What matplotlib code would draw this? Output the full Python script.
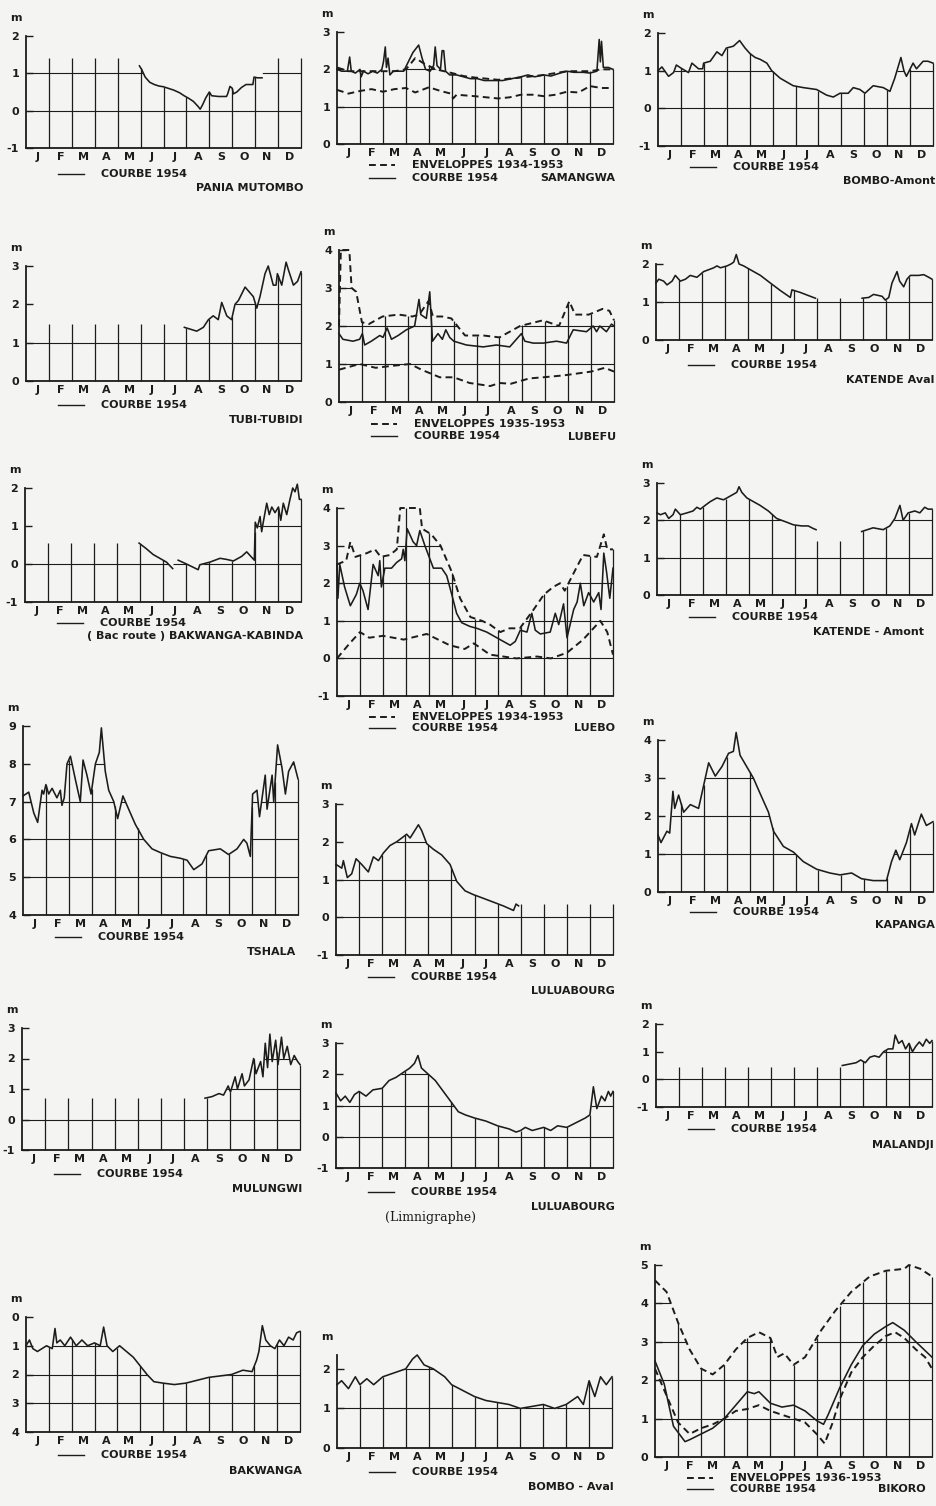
import numpy as np
import matplotlib
matplotlib.use('Agg')
from matplotlib import pyplot as plt
from matplotlib.lines import Line2D

nan = np.nan
W, H = 936, 1506
BG = '#f4f4f2'
INK = '#1c1c1c'
months = ['J', 'F', 'M', 'A', 'M', 'J', 'J', 'A', 'S', 'O', 'N', 'D']

# (month position, level in m) ; nan = no reading
pania = [(0, nan), (4.9, nan), (4.95, 1.2), (5.05, 1.1), (5.2, 0.9), (5.4, 0.76), (5.6, 0.7), (5.8, 0.66),
         (6.0, 0.64), (6.2, 0.6), (6.45, 0.55), (6.7, 0.48), (6.9, 0.4), (7.1, 0.33), (7.3, 0.25), (7.5, 0.12),
         (7.6, 0.04), (7.7, 0.15), (7.85, 0.35), (8.0, 0.5), (8.1, 0.4), (8.4, 0.38), (8.75, 0.38), (8.8, 0.45),
         (8.9, 0.65), (9.0, 0.6), (9.05, 0.45), (9.2, 0.5), (9.4, 0.62), (9.6, 0.7), (9.9, 0.7), (9.95, 0.9),
         (10.1, 0.88), (10.3, 0.88), (10.35, nan), (12, nan)]

samangwa = [(0, 2.0), (0.2, 1.95), (0.45, 1.95), (0.55, 2.33), (0.62, 1.95), (0.8, 1.9), (1.0, 2.0), (1.05, 1.8),
            (1.15, 1.95), (1.35, 1.88), (1.55, 1.95), (1.75, 1.9), (1.95, 2.0), (2.02, 2.2), (2.1, 2.6), (2.15, 2.05),
            (2.22, 2.3), (2.3, 1.85), (2.45, 1.95), (2.7, 1.95), (2.9, 1.95), (3.1, 2.2), (3.3, 2.45), (3.55, 2.65),
            (3.7, 2.3), (3.85, 2.0), (4.05, 1.95), (4.2, 2.1), (4.27, 2.6), (4.35, 2.1), (4.5, 2.0), (4.57, 2.5),
            (4.64, 2.5), (4.72, 1.95), (4.9, 1.85), (5.2, 1.85), (5.5, 1.8), (5.8, 1.75), (6.1, 1.75), (6.4, 1.7),
            (6.8, 1.7), (7.2, 1.7), (7.6, 1.75), (8.0, 1.8), (8.3, 1.85), (8.6, 1.8), (9.0, 1.85), (9.3, 1.82),
            (9.7, 1.9), (10.0, 1.95), (10.3, 1.92), (10.7, 1.92), (11.0, 1.9), (11.3, 1.95), (11.4, 2.8),
            (11.45, 2.2), (11.5, 2.75), (11.58, 2.05), (11.8, 2.05), (12, 2.0)]
samangwa_up = [(0, 2.05), (0.5, 1.95), (1, 1.95), (1.5, 1.95), (2, 1.95), (2.5, 1.95), (3, 2.0), (3.4, 2.3),
               (3.8, 2.15), (4.3, 2.0), (5, 1.9), (5.5, 1.82), (6, 1.78), (7, 1.72), (8, 1.78), (9, 1.85),
               (10, 1.95), (11, 1.95), (11.5, 2.0), (12, 2.0)]
samangwa_lo = [(0, 1.45), (0.5, 1.35), (1, 1.42), (1.5, 1.47), (2, 1.4), (2.5, 1.47), (3, 1.5), (3.4, 1.38),
               (4, 1.52), (4.5, 1.42), (4.95, 1.35), (5.05, 1.22), (5.2, 1.32), (5.6, 1.3), (6, 1.28), (6.5, 1.25),
               (7, 1.22), (7.5, 1.25), (8, 1.32), (8.5, 1.32), (9, 1.28), (9.5, 1.32), (10, 1.4), (10.5, 1.38),
               (11, 1.55), (11.5, 1.5), (12, 1.5)]

bombo_amont = [(0, 1.0), (0.17, 1.1), (0.46, 0.85), (0.68, 0.95), (0.8, 1.15), (1.05, 1.05), (1.33, 0.95),
               (1.48, 1.2), (1.77, 1.05), (1.95, 1.05), (1.99, 1.2), (2.28, 1.25), (2.57, 1.5), (2.79, 1.4),
               (2.98, 1.6), (3.29, 1.65), (3.56, 1.8), (3.8, 1.6), (4.02, 1.45), (4.24, 1.35), (4.46, 1.3),
               (4.75, 1.2), (4.96, 1.0), (5.33, 0.8), (5.9, 0.6), (6.34, 0.55), (6.92, 0.5), (7.36, 0.35),
               (7.65, 0.3), (7.94, 0.4), (8.3, 0.4), (8.52, 0.55), (8.81, 0.5), (9.03, 0.4), (9.39, 0.6),
               (9.83, 0.55), (10.12, 0.45), (10.33, 0.8), (10.6, 1.35), (10.73, 1.0), (10.84, 0.85), (11.13, 1.2),
               (11.28, 1.05), (11.57, 1.25), (11.78, 1.25), (12, 1.2)]

tubi = [(0, nan), (6.88, nan), (6.91, 1.4), (7.45, 1.3), (7.74, 1.4), (7.96, 1.6), (8.17, 1.7), (8.39, 1.6),
        (8.54, 2.05), (8.76, 1.7), (8.97, 1.6), (9.12, 2.0), (9.27, 2.1), (9.56, 2.45), (9.92, 2.2), (10.07, 1.9),
        (10.21, 2.2), (10.43, 2.8), (10.57, 3.0), (10.79, 2.5), (10.91, 2.5), (10.97, 2.8), (11.16, 2.5),
        (11.35, 3.1), (11.45, 2.9), (11.67, 2.5), (11.85, 2.6), (12, 2.85)]

lubefu = [(0, 1.8), (0.17, 1.65), (0.61, 1.6), (0.9, 1.65), (1.02, 1.8), (1.12, 1.5), (1.41, 1.6), (1.78, 1.75),
          (1.92, 1.7), (2.1, 1.95), (2.29, 1.65), (2.58, 1.75), (2.94, 1.9), (3.3, 2.0), (3.49, 2.7), (3.57, 2.3),
          (3.81, 2.2), (3.96, 2.9), (4.08, 1.6), (4.32, 1.8), (4.51, 1.65), (4.66, 1.9), (4.83, 1.7), (5.01, 1.6),
          (5.56, 1.5), (6.29, 1.45), (6.87, 1.5), (7.45, 1.45), (7.96, 1.8), (8.11, 1.6), (8.47, 1.55), (8.91, 1.55),
          (9.49, 1.6), (9.93, 1.55), (10.22, 1.9), (10.8, 1.85), (11.09, 2.0), (11.24, 1.85), (11.38, 2.0),
          (11.67, 1.85), (11.89, 2.05), (12, 2.0)]
lubefu_up = [(0, 2.0), (0.08, 4.0), (0.45, 4.0), (0.55, 3.0), (0.75, 2.9), (1.0, 2.1), (1.3, 2.05), (1.9, 2.25),
             (2.6, 2.3), (3.2, 2.25), (3.5, 2.3), (3.9, 2.65), (4.1, 2.25), (4.5, 2.25), (4.9, 2.2), (5.5, 1.75),
             (6.3, 1.75), (7.0, 1.7), (7.9, 2.0), (8.9, 2.15), (9.6, 2.0), (10.05, 2.65), (10.3, 2.3), (10.9, 2.3),
             (11.5, 2.45), (11.8, 2.4), (12, 2.15)]
lubefu_lo = [(0, 0.85), (0.6, 0.95), (0.9, 1.0), (1.6, 0.9), (2.3, 0.95), (3.1, 1.0), (3.6, 0.85), (4.4, 0.65),
             (5.0, 0.65), (5.7, 0.5), (6.6, 0.42), (7.0, 0.5), (7.5, 0.48), (8.3, 0.62), (8.9, 0.65), (9.8, 0.7),
             (11.0, 0.8), (11.6, 0.9), (12, 0.8)]

katende_aval = [(0, 1.5), (0.12, 1.6), (0.33, 1.55), (0.48, 1.45), (0.7, 1.55), (0.84, 1.7), (1.06, 1.55),
                (1.28, 1.6), (1.49, 1.7), (1.78, 1.65), (2.07, 1.8), (2.29, 1.85), (2.51, 1.9), (2.65, 1.95),
                (2.8, 1.9), (3.09, 1.95), (3.26, 2.0), (3.38, 2.05), (3.49, 2.25), (3.61, 2.0), (3.81, 1.95),
                (4.1, 1.85), (4.54, 1.7), (4.97, 1.5), (5.41, 1.3), (5.84, 1.12), (5.91, 1.32), (6.28, 1.25),
                (6.71, 1.15), (6.93, 1.1), (6.97, nan), (8.92, nan), (8.96, 1.1), (9.25, 1.12), (9.46, 1.2),
                (9.83, 1.15), (9.97, 1.05), (10.12, 1.12), (10.26, 1.5), (10.48, 1.8), (10.59, 1.55), (10.77, 1.4),
                (10.91, 1.6), (11.06, 1.7), (11.42, 1.7), (11.64, 1.72), (11.86, 1.65), (12, 1.6)]

bakwanga_kabinda = [(0, nan), (4.93, nan), (4.96, 0.55), (5.28, 0.4), (5.57, 0.25), (5.86, 0.15), (6.15, 0.05),
                    (6.42, -0.12), (6.5, nan), (6.6, nan), (6.66, 0.1), (7.02, 0.0), (7.53, -0.15), (7.6, -0.02),
                    (8.04, 0.05), (8.48, 0.15), (8.77, 0.12), (9.06, 0.08), (9.42, 0.2), (9.64, 0.32), (9.97, 0.1),
                    (10.01, 1.1), (10.1, 0.95), (10.22, 1.25), (10.29, 0.85), (10.36, 1.1), (10.51, 1.6),
                    (10.62, 1.3), (10.73, 1.5), (10.87, 1.35), (11.02, 1.5), (11.12, 1.15), (11.23, 1.6),
                    (11.38, 1.3), (11.52, 1.7), (11.64, 2.0), (11.74, 1.9), (11.84, 2.1), (11.93, 1.7), (12, 1.7)]

luebo = [(0, 2.5), (0.04, 1.6), (0.12, 2.5), (0.33, 1.9), (0.58, 1.4), (0.84, 1.7), (0.99, 2.0), (1.13, 1.8),
         (1.35, 1.3), (1.57, 2.5), (1.79, 2.2), (1.86, 2.6), (1.93, 1.9), (2.08, 2.4), (2.37, 2.4), (2.59, 2.55),
         (2.81, 2.65), (2.88, 2.9), (2.95, 2.6), (3.05, 3.45), (3.31, 3.1), (3.46, 3.0), (3.6, 3.4), (3.82, 3.0),
         (4.19, 2.4), (4.55, 2.4), (4.77, 2.2), (4.99, 1.7), (5.2, 1.2), (5.42, 0.95), (5.78, 0.85), (6.08, 0.8),
         (6.51, 0.7), (7.09, 0.5), (7.53, 0.35), (7.75, 0.45), (7.97, 0.75), (8.26, 0.7), (8.47, 1.2), (8.62, 0.75),
         (8.84, 0.65), (9.27, 0.7), (9.49, 1.2), (9.64, 0.9), (9.85, 1.45), (10.0, 0.55), (10.29, 1.3),
         (10.44, 1.5), (10.58, 2.0), (10.73, 1.4), (10.94, 1.75), (11.16, 1.5), (11.38, 1.75), (11.48, 1.3),
         (11.6, 2.8), (11.72, 2.3), (11.86, 1.6), (12, 2.4)]
luebo_up = [(0, 2.5), (0.4, 2.6), (0.58, 3.1), (0.8, 2.7), (1.3, 2.8), (1.65, 2.9), (1.9, 2.7), (2.3, 2.75),
            (2.6, 2.9), (2.75, 4.0), (3.6, 4.0), (3.7, 3.45), (4.1, 3.3), (4.5, 3.0), (4.99, 2.3), (5.35, 1.6),
            (5.8, 1.1), (6.3, 1.0), (6.65, 0.9), (7.1, 0.7), (7.5, 0.8), (7.95, 0.8), (8.55, 1.3), (9.0, 1.7),
            (9.4, 1.9), (9.7, 2.0), (9.9, 1.8), (10.4, 2.4), (10.7, 2.75), (11.3, 2.7), (11.6, 3.3), (11.75, 2.9),
            (12, 2.9)]
luebo_lo = [(0, 0.0), (0.55, 0.4), (1.0, 0.7), (1.4, 0.55), (2.0, 0.6), (2.9, 0.5), (3.9, 0.65), (4.9, 0.35),
            (5.55, 0.25), (5.95, 0.4), (6.65, 0.1), (7.8, 0.0), (8.7, 0.05), (9.3, 0.0), (10.0, 0.15), (10.7, 0.5),
            (11.45, 1.0), (11.75, 0.7), (12, 0.1)]

katende_amont = [(0, 2.2), (0.15, 2.15), (0.36, 2.2), (0.51, 2.05), (0.7, 2.15), (0.8, 2.3), (1.02, 2.15),
                 (1.31, 2.2), (1.57, 2.25), (1.74, 2.35), (1.89, 2.3), (2.1, 2.4), (2.32, 2.5), (2.61, 2.6),
                 (2.9, 2.55), (3.05, 2.6), (3.34, 2.7), (3.48, 2.75), (3.58, 2.9), (3.7, 2.75), (3.92, 2.6),
                 (4.21, 2.5), (4.5, 2.4), (4.86, 2.25), (5.22, 2.05), (5.66, 1.95), (5.95, 1.88), (6.31, 1.85),
                 (6.6, 1.85), (6.82, 1.78), (6.94, 1.75), (6.98, nan), (8.9, nan), (8.93, 1.7), (9.43, 1.8),
                 (9.87, 1.75), (10.16, 1.85), (10.38, 2.05), (10.6, 2.4), (10.74, 2.0), (10.96, 2.2), (11.25, 2.25),
                 (11.47, 2.2), (11.68, 2.35), (11.83, 2.3), (12, 2.3)]

tshala = [(0, 7.15), (0.25, 7.25), (0.47, 6.7), (0.64, 6.45), (0.83, 7.3), (0.9, 7.2), (1.0, 7.45), (1.12, 7.2),
          (1.27, 7.35), (1.48, 7.1), (1.63, 7.3), (1.7, 6.9), (1.8, 7.1), (1.92, 8.0), (2.07, 8.2), (2.28, 7.6),
          (2.5, 7.0), (2.62, 8.1), (2.79, 7.7), (2.97, 7.2), (3.16, 8.0), (3.33, 8.3), (3.42, 8.95), (3.59, 7.8),
          (3.74, 7.3), (3.96, 7.0), (4.13, 6.55), (4.36, 7.15), (4.61, 6.8), (4.9, 6.4), (5.27, 6.0), (5.63, 5.75),
          (6.0, 5.65), (6.43, 5.55), (6.87, 5.5), (7.16, 5.45), (7.45, 5.2), (7.81, 5.35), (8.1, 5.7), (8.61, 5.75),
          (8.97, 5.6), (9.34, 5.75), (9.63, 6.0), (9.77, 5.9), (9.92, 5.55), (10.02, 7.2), (10.21, 7.3),
          (10.32, 6.6), (10.57, 7.7), (10.65, 6.8), (10.87, 7.7), (10.94, 7.0), (11.11, 8.5), (11.3, 7.9),
          (11.45, 7.2), (11.59, 7.8), (11.81, 8.05), (12, 7.6)]

luluabourg = [(0, 1.4), (0.25, 1.3), (0.32, 1.5), (0.49, 1.05), (0.68, 1.15), (0.87, 1.55), (1.11, 1.4),
              (1.4, 1.2), (1.62, 1.6), (1.84, 1.5), (2.05, 1.7), (2.34, 1.9), (2.63, 2.0), (2.85, 2.1), (3.06, 2.2),
              (3.21, 2.1), (3.57, 2.45), (3.71, 2.3), (3.93, 1.95), (4.22, 1.8), (4.58, 1.65), (4.94, 1.4),
              (5.23, 0.95), (5.59, 0.7), (5.95, 0.6), (6.39, 0.5), (6.82, 0.4), (7.25, 0.3), (7.69, 0.18),
              (7.8, 0.35), (7.91, 0.3), (7.95, nan), (12, nan)]

kapanga = [(0, 1.5), (0.13, 1.3), (0.39, 1.6), (0.51, 1.55), (0.65, 2.65), (0.73, 2.2), (0.9, 2.55), (1.12, 2.1),
           (1.41, 2.3), (1.77, 2.2), (1.99, 2.8), (2.21, 3.4), (2.5, 3.05), (2.79, 3.3), (3.08, 3.65), (3.29, 3.7),
           (3.41, 4.2), (3.58, 3.6), (3.87, 3.3), (4.16, 3.0), (4.45, 2.6), (4.82, 2.1), (5.04, 1.6), (5.47, 1.2),
           (5.91, 1.05), (6.34, 0.8), (6.92, 0.6), (7.5, 0.5), (7.94, 0.45), (8.45, 0.5), (8.88, 0.35), (9.39, 0.3),
           (9.97, 0.3), (10.19, 0.8), (10.38, 1.1), (10.55, 0.85), (10.84, 1.3), (11.06, 1.8), (11.2, 1.5),
           (11.49, 2.05), (11.71, 1.75), (12, 1.85)]

mulungwi = [(0, nan), (7.85, nan), (7.9, 0.7), (8.2, 0.75), (8.5, 0.85), (8.7, 0.8), (8.9, 1.1), (9.0, 0.9),
            (9.2, 1.4), (9.3, 1.0), (9.5, 1.5), (9.6, 1.1), (9.8, 1.3), (10.0, 2.0), (10.1, 1.5), (10.3, 1.9),
            (10.4, 1.4), (10.5, 2.5), (10.6, 1.7), (10.7, 2.8), (10.8, 1.9), (10.95, 2.6), (11.05, 1.8),
            (11.2, 2.7), (11.3, 2.0), (11.45, 2.4), (11.6, 1.8), (11.75, 2.1), (11.9, 1.9), (12, 1.8)]

luluabourg_limni = [(0, 1.4), (0.2, 1.15), (0.4, 1.3), (0.6, 1.1), (0.8, 1.35), (1.0, 1.45), (1.3, 1.3),
                    (1.6, 1.5), (2.0, 1.55), (2.3, 1.8), (2.6, 1.9), (3.0, 2.1), (3.2, 2.2), (3.4, 2.35),
                    (3.55, 2.6), (3.7, 2.2), (4.0, 2.0), (4.3, 1.8), (4.6, 1.5), (5.0, 1.1), (5.3, 0.8), (5.6, 0.7),
                    (6.0, 0.6), (6.5, 0.5), (7.0, 0.35), (7.5, 0.25), (7.8, 0.15), (8.0, 0.2), (8.2, 0.3),
                    (8.5, 0.2), (9.0, 0.3), (9.3, 0.2), (9.6, 0.35), (10.0, 0.3), (10.4, 0.45), (10.8, 0.6),
                    (11.0, 0.7), (11.15, 1.6), (11.3, 0.9), (11.5, 1.3), (11.65, 1.15), (11.8, 1.45), (11.9, 1.3),
                    (12, 1.45)]

malandji = [(0, nan), (8.05, nan), (8.1, 0.5), (8.4, 0.55), (8.7, 0.6), (8.9, 0.7), (9.1, 0.6), (9.3, 0.8),
            (9.5, 0.85), (9.7, 0.8), (9.9, 1.0), (10.1, 1.1), (10.3, 1.1), (10.4, 1.6), (10.55, 1.3), (10.7, 1.4),
            (10.85, 1.1), (11.0, 1.3), (11.15, 1.0), (11.3, 1.2), (11.45, 1.35), (11.6, 1.2), (11.75, 1.45),
            (11.9, 1.3), (12, 1.4)]

bakwanga = [(0, 1.0), (0.15, 0.8), (0.3, 1.1), (0.5, 1.2), (0.7, 1.1), (0.9, 1.0), (1.15, 1.1), (1.27, 0.4),
            (1.35, 0.9), (1.5, 0.8), (1.7, 1.0), (1.95, 0.7), (2.2, 1.0), (2.45, 0.8), (2.7, 1.0), (3.0, 0.9),
            (3.25, 1.0), (3.4, 0.35), (3.55, 1.0), (3.8, 1.2), (4.1, 1.0), (4.4, 1.2), (4.7, 1.4), (5.0, 1.7),
            (5.3, 2.0), (5.6, 2.25), (6.0, 2.3), (6.5, 2.35), (7.0, 2.3), (7.5, 2.2), (8.0, 2.1), (8.5, 2.05),
            (9.0, 2.0), (9.5, 1.85), (9.9, 1.9), (10.1, 1.5), (10.2, 1.2), (10.35, 0.3), (10.5, 0.8), (10.7, 1.0),
            (10.9, 1.1), (11.1, 0.8), (11.3, 1.0), (11.5, 0.7), (11.7, 0.8), (11.85, 0.55), (12, 0.5)]

bombo_aval = [(0, 1.6), (0.2, 1.7), (0.5, 1.5), (0.8, 1.8), (1.0, 1.6), (1.3, 1.75), (1.6, 1.6), (2.0, 1.8),
              (2.5, 1.9), (3.0, 2.0), (3.3, 2.25), (3.5, 2.35), (3.8, 2.1), (4.2, 2.0), (4.7, 1.8), (5.0, 1.6),
              (5.5, 1.45), (6.0, 1.3), (6.5, 1.2), (7.0, 1.15), (7.5, 1.1), (8.0, 1.0), (8.5, 1.05), (9.0, 1.1),
              (9.5, 1.0), (10.0, 1.1), (10.5, 1.3), (10.75, 1.1), (11.0, 1.7), (11.25, 1.3), (11.5, 1.8),
              (11.75, 1.6), (12, 1.8)]

bikoro = [(0, 2.5), (0.4, 1.9), (0.8, 0.8), (1.3, 0.4), (1.5, 0.45), (2.0, 0.6), (2.5, 0.75), (3.0, 1.0),
          (3.5, 1.35), (4.0, 1.7), (4.3, 1.65), (4.5, 1.7), (5.0, 1.4), (5.5, 1.3), (6.0, 1.35), (6.5, 1.2),
          (7.0, 0.95), (7.3, 0.85), (7.5, 1.1), (8.0, 1.8), (8.5, 2.4), (9.0, 2.9), (9.5, 3.2), (10.0, 3.4),
          (10.3, 3.5), (10.8, 3.3), (11.3, 3.0), (12, 2.6)]
bikoro_up = [(0, 4.6), (0.5, 4.3), (1.0, 3.5), (1.5, 2.8), (2.0, 2.3), (2.5, 2.15), (3.0, 2.4), (3.5, 2.8),
             (4.0, 3.1), (4.5, 3.25), (5.0, 3.1), (5.3, 2.6), (5.6, 2.7), (6.0, 2.4), (6.5, 2.6), (7.2, 3.3),
             (7.8, 3.8), (8.5, 4.3), (9.3, 4.7), (10.0, 4.85), (10.8, 4.9), (11.0, 5.0), (11.5, 4.9), (12, 4.7)]
bikoro_lo = [(0, 2.3), (0.5, 1.6), (1.0, 0.9), (1.5, 0.6), (2.0, 0.75), (2.5, 0.85), (3.0, 1.0), (3.5, 1.2),
             (4.0, 1.25), (4.5, 1.35), (5.0, 1.2), (5.5, 1.1), (6.0, 1.0), (6.5, 0.9), (7.0, 0.6), (7.35, 0.35),
             (7.7, 0.9), (8.0, 1.5), (8.5, 2.2), (9.0, 2.6), (9.5, 2.9), (10.0, 3.15), (10.4, 3.25), (10.8, 3.1),
             (11.3, 2.8), (11.7, 2.6), (12, 2.3)]

fig = plt.figure(figsize=(W / 100, H / 100), dpi=100, facecolor=BG)
font = dict(fontsize=8, fontweight='bold', color=INK, family='DejaVu Sans')


def fx(x):
    return x / W


def fy(y):
    return 1 - y / H


def split(series):
    t = np.array([p[0] for p in series], dtype=float)
    h = np.array([p[1] for p in series], dtype=float)
    return t, h


def panel(box, ylim, yticks, name, curve, up=None, lo=None, env=None, gap=0.0,
          leg_dy=24, env_dy=21, name_dy=38, name_x=None):
    left, top, right, bottom = box
    ax = fig.add_axes([fx(left), fy(bottom), (right - left) / W, (bottom - top) / H])
    ax.set_facecolor(BG)
    ax.set_xlim(0, 12)
    ax.set_ylim(*ylim)

    t, h = split(curve)
    if up is not None:
        mt, mh = split(up)
    else:
        mt, mh = t, np.where(np.isnan(h), gap, h)

    # grid only shows under the highest curve
    for v in yticks:
        if v != ylim[1]:
            ax.axhline(v, color=INK, lw=0.8, zorder=1)
    ax.fill_between(mt, mh, ylim[1], color=BG, lw=0, zorder=1.5)
    edges = np.arange(1, 13)
    ax.vlines(edges, ylim[0], np.interp(edges, mt, mh), color=INK, lw=0.9, zorder=2, clip_on=False)

    for s in (up, lo):
        if s is not None:
            et, eh = split(s)
            ax.plot(et, eh, color=INK, lw=1.4, ls=(0, (3.5, 2.2)), zorder=3, clip_on=False)
    ax.plot(t, h, color=INK, lw=1.15, zorder=4, clip_on=False)

    for side in ('top', 'right'):
        ax.spines[side].set_visible(False)
    for side in ('left', 'bottom'):
        ax.spines[side].set_linewidth(1.3)
        ax.spines[side].set_color(INK)
    ax.set_yticks(yticks)
    ax.set_yticklabels([str(v) for v in yticks], **font)
    ax.tick_params(axis='y', direction='in', length=5, width=1, pad=5, colors=INK)
    ax.set_xticks(np.arange(12) + 0.5)
    ax.set_xticklabels(months, **font)
    ax.tick_params(axis='x', length=0, pad=3)

    fig.text(fx(left - 10), fy(top - 18), 'm', ha='center', va='center', **font)
    y = bottom + leg_dy
    fig.add_artist(Line2D([fx(left + 32), fx(left + 58)], [fy(y), fy(y)], color=INK, lw=1.0))
    fig.text(fx(left + 75), fy(y), 'COURBE 1954', ha='left', va='center', **font)
    if env is not None:
        y2 = bottom + env_dy
        fig.add_artist(Line2D([fx(left + 32), fx(left + 58)], [fy(y2), fy(y2)], color=INK, lw=1.4,
                              ls=(0, (3.5, 2.2))))
        fig.text(fx(left + 75), fy(y2), env, ha='left', va='center', **font)
    fig.text(fx(name_x if name_x else right + 2), fy(bottom + name_dy), name, ha='right', va='center', **font)
    return ax


panel((26, 36, 301, 148), (-1, 2), [-1, 0, 1, 2], 'PANIA MUTOMBO', pania, gap=1.4, leg_dy=26, name_dy=40)
panel((337, 32, 613, 144), (0, 3), [0, 1, 2, 3], 'SAMANGWA', samangwa, up=samangwa_up, lo=samangwa_lo,
      env='ENVELOPPES 1934-1953', env_dy=21, leg_dy=34, name_dy=34)
panel((658, 33, 933, 146), (-1, 2), [-1, 0, 1, 2], 'BOMBO-Amont', bombo_amont, leg_dy=21, name_dy=35)

panel((26, 266, 301, 381), (0, 3), [0, 1, 2, 3], 'TUBI-TUBIDI', tubi, gap=1.5, leg_dy=24, name_dy=39)
panel((339, 250, 614, 402), (0, 4), [0, 1, 2, 3, 4], 'LUBEFU', lubefu, up=lubefu_up, lo=lubefu_lo,
      env='ENVELOPPES 1935-1953', env_dy=22, leg_dy=34, name_dy=35)
panel((656, 264, 932, 340), (0, 2), [0, 1, 2], 'KATENDE Aval', katende_aval, gap=1.1, leg_dy=25, name_dy=40)

panel((25, 488, 301, 602), (-1, 2), [-1, 0, 1, 2], '( Bac route ) BAKWANGA-KABINDA', bakwanga_kabinda,
      gap=0.55, leg_dy=21, name_dy=34)
panel((337, 508, 613, 696), (-1, 4), [-1, 0, 1, 2, 3, 4], 'LUEBO', luebo, up=luebo_up, lo=luebo_lo,
      env='ENVELOPPES 1934-1953', env_dy=21, leg_dy=32, name_dy=32)
panel((657, 483, 932, 595), (0, 3), [0, 1, 2, 3], 'KATENDE - Amont', katende_amont, gap=1.45,
      leg_dy=22, name_dy=37, name_x=924)

panel((23, 726, 298, 915), (4, 9), [4, 5, 6, 7, 8, 9], 'TSHALA', tshala, leg_dy=22, name_dy=37, name_x=296)
panel((336, 804, 613, 955), (-1, 3), [-1, 0, 1, 2, 3], 'LULUABOURG', luluabourg, gap=0.35, leg_dy=22, name_dy=36)
panel((658, 740, 933, 892), (0, 4), [0, 1, 2, 3, 4], 'KAPANGA', kapanga, leg_dy=20, name_dy=33)

panel((22, 1028, 300, 1150), (-1, 3), [-1, 0, 1, 2, 3], 'MULUNGWI', mulungwi, gap=0.7, leg_dy=24, name_dy=39)
panel((336, 1043, 613, 1168), (-1, 3), [-1, 0, 1, 2, 3], 'LULUABOURG', luluabourg_limni, leg_dy=24, name_dy=39)
panel((656, 1024, 932, 1107), (-1, 2), [-1, 0, 1, 2], 'MALANDJI', malandji, gap=0.45, leg_dy=22, name_dy=38)

panel((26, 1317, 300, 1432), (4, 0), [0, 1, 2, 3, 4], 'BAKWANGA', bakwanga, leg_dy=23, name_dy=39)
panel((337, 1355, 612, 1448), (0, 2.35), [0, 1, 2], 'BOMBO - Aval', bombo_aval, leg_dy=24, name_dy=39)
panel((655, 1265, 932, 1457), (0, 5), [0, 1, 2, 3, 4, 5], 'BIKORO', bikoro, up=bikoro_up, lo=bikoro_lo,
      env='ENVELOPPES 1936-1953', env_dy=21, leg_dy=32, name_dy=32, name_x=926)

fig.text(fx(430), fy(1218), '(Limnigraphe)', ha='center', va='center', fontsize=9,
         family='DejaVu Serif', color=INK)

fig.savefig('out.png', dpi=100, facecolor=BG)
